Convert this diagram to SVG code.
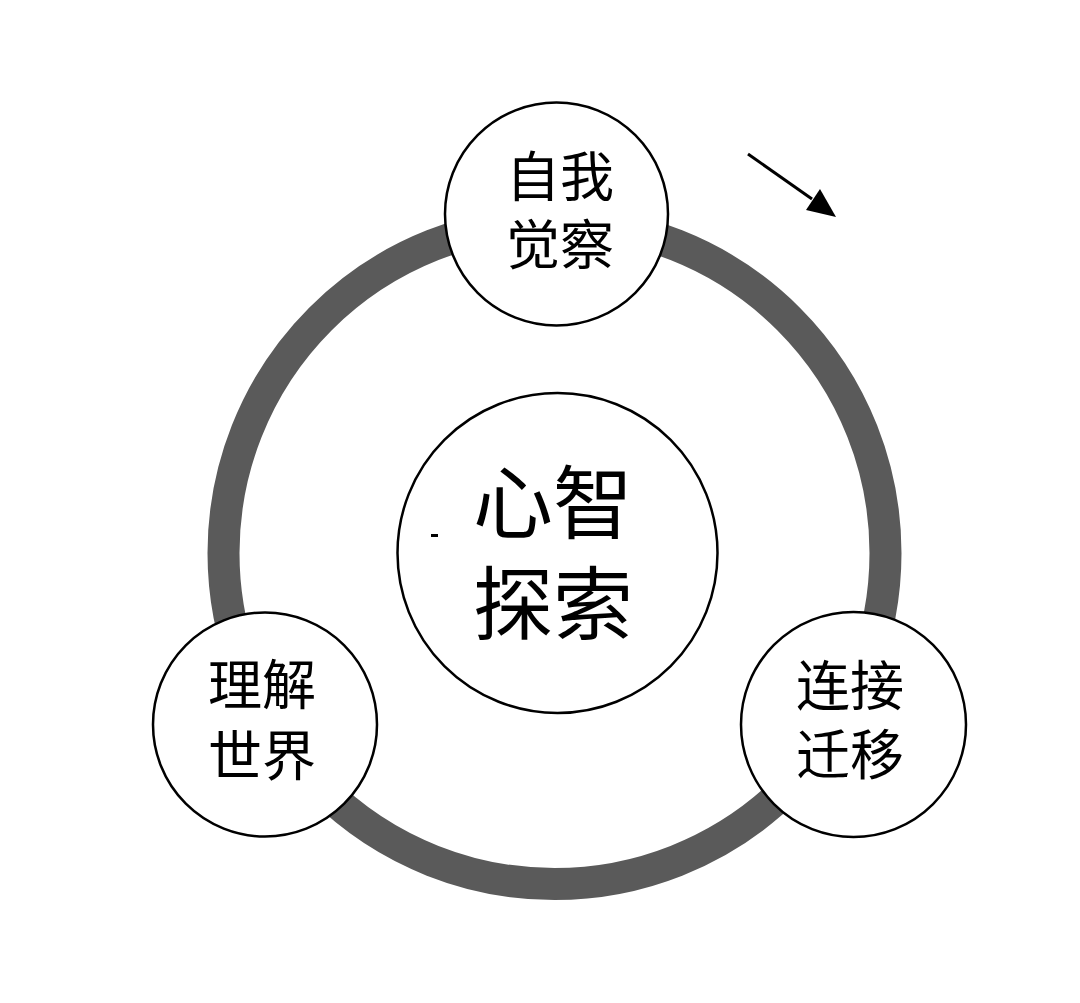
<svg xmlns="http://www.w3.org/2000/svg" width="1080" height="1003" viewBox="0 0 1080 1003">
<style>
.node{fill:#fff;stroke:#000;stroke-width:2.5}
.lbl{font-family:"Noto Sans CJK SC","Noto Sans",sans-serif;fill:#000;text-anchor:middle;dominant-baseline:central}
.s{font-size:54px}
.b{font-size:80px}
</style>
<rect width="1080" height="1003" fill="#fff"/>
<g id="connectors">
<circle id="ring" cx="554.5" cy="553" r="331" fill="none" stroke="#5a5a5a" stroke-width="32"/>
<line x1="748" y1="154" x2="812" y2="199" stroke="#000" stroke-width="3"/>
<path d="M836,217 L806,210 L820,189 z" fill="#000"/>
</g>
<g id="node-top">
<circle class="node" cx="556.5" cy="214" r="111.5"/>
<text class="lbl s"><tspan x="560" y="173">自我</tspan><tspan x="560" y="241">觉察</tspan></text>
</g>
<g id="node-center">
<circle class="node" cx="557.5" cy="553" r="160"/>
<text class="lbl b"><tspan x="553" y="497">心智</tspan><tspan x="553" y="598">探索</tspan></text>
<rect x="431" y="534" width="7" height="3" fill="#000"/>
</g>
<g id="node-left">
<circle class="node" cx="265" cy="724.5" r="112"/>
<text class="lbl s"><tspan x="262" y="681">理解</tspan><tspan x="262" y="752">世界</tspan></text>
</g>
<g id="node-right">
<circle class="node" cx="853.5" cy="724.5" r="112.5"/>
<text class="lbl s"><tspan x="850" y="682">连接</tspan><tspan x="850" y="751">迁移</tspan></text>
</g>
</svg>
